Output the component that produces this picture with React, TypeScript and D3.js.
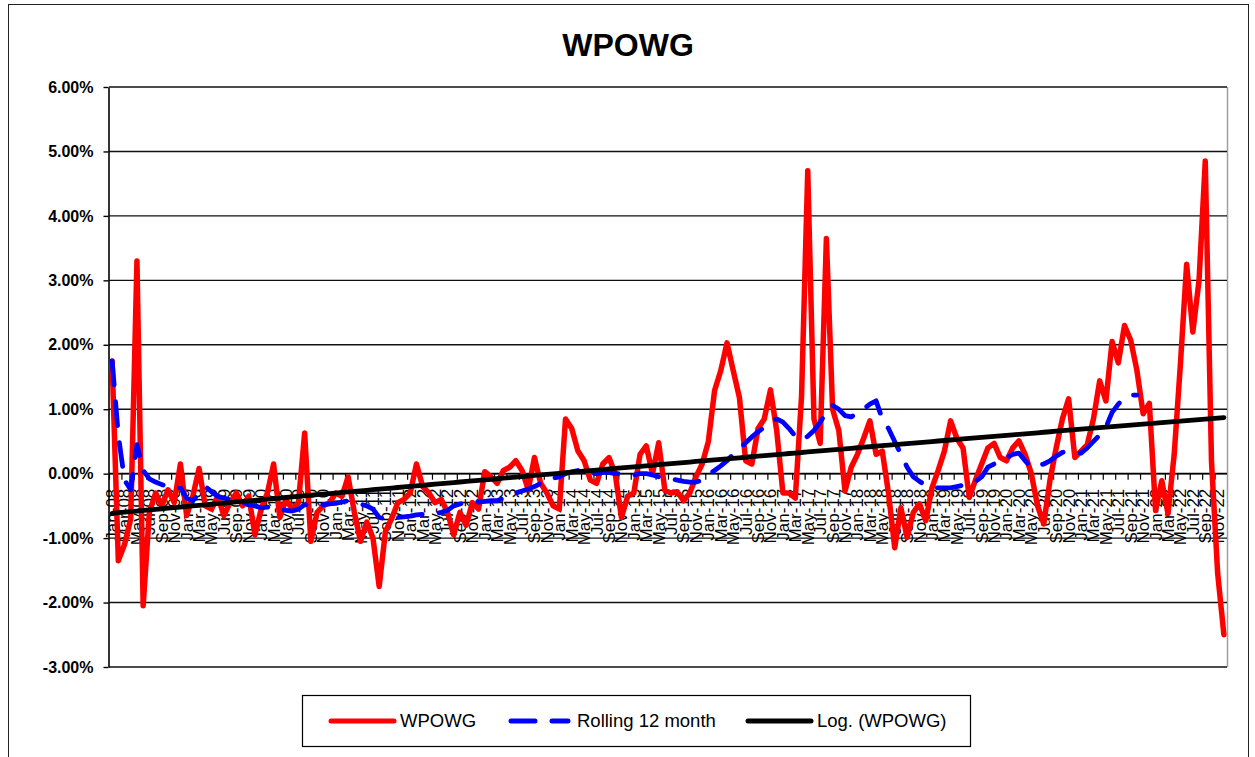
import React, { useEffect, useRef } from 'react';
import * as d3 from 'd3';

// months Jan-08 .. Dec-22
const MONTHS = d3.timeMonth.range(new Date(2008, 0, 1), new Date(2023, 0, 1));
const CATEGORIES = MONTHS.map(d3.timeFormat('%b-%y'));

// monthly WPOWG, in %
const WPOWG = [
  1.75, -1.35, -1.1, -0.7, 3.3, -2.05, -0.6, -0.3, -0.5, -0.25,
  -0.45, 0.15, -0.65, -0.35, 0.08, -0.5, -0.55, -0.35, -0.65, -0.45,
  -0.3, -0.5, -0.35, -0.95, -0.55, -0.3, 0.15, -0.68, -0.4, -0.55,
  -0.45, 0.63, -1.05, -0.6, -0.5, -0.45, -0.3, -0.35, -0.05, -0.6,
  -1.05, -0.75, -1.0, -1.75, -0.9, -0.7, -0.45, -0.4, -0.3, 0.15,
  -0.2, -0.3, -0.45, -0.4, -0.6, -0.95, -0.6, -0.8, -0.45, -0.55,
  0.03, -0.05, -0.15, 0.05, 0.1, 0.2, 0.05, -0.25, 0.25, -0.15,
  -0.3, -0.5, -0.55, 0.85, 0.7, 0.35, 0.2, -0.1, -0.15, 0.15,
  0.25, 0.0, -0.68, -0.35, -0.3, 0.3, 0.43, 0.0, 0.48, -0.26,
  -0.3, -0.28, -0.42, -0.3, -0.05, 0.15, 0.5, 1.29, 1.6, 2.03,
  1.6, 1.18, 0.2, 0.15, 0.7, 0.85, 1.3, 0.67, -0.3, -0.3,
  -0.38, 1.2, 4.7, 0.85, 0.47, 3.65, 1.0, 0.67, -0.27, 0.1,
  0.3, 0.55, 0.82, 0.3, 0.35, -0.3, -1.15, -0.53, -0.99, -0.6,
  -0.47, -0.73, -0.22, 0.05, 0.35, 0.82, 0.55, 0.4, -0.37, -0.1,
  0.15, 0.4, 0.47, 0.25, 0.2, 0.4, 0.51, 0.3, 0.0, -0.5,
  -0.78, -0.1, 0.4, 0.85, 1.16, 0.25, 0.35, 0.45, 0.85, 1.44,
  1.13, 2.05, 1.72, 2.3, 2.07, 1.6, 0.93, 1.09, -0.57, -0.11,
  -0.62, 0.3, 1.7, 3.25, 2.2, 3.0, 4.85, 0.2, -1.55, -2.5,
];

// rolling 12 month, ends Oct-21
const ROLLING = [
  1.75, 0.6, -0.1, -0.25, 0.45, 0.05, -0.08, -0.13, -0.17, -0.2,
  -0.23, -0.22, -0.38, -0.42, -0.3, -0.2, -0.28, -0.35, -0.38, -0.4,
  -0.42, -0.45, -0.48, -0.5, -0.53, -0.52, -0.5, -0.55, -0.57, -0.58,
  -0.55, -0.48, -0.5, -0.5, -0.48, -0.47, -0.46, -0.44, -0.42, -0.44,
  -0.47, -0.5, -0.55, -0.68, -0.7, -0.7, -0.68, -0.67, -0.66, -0.64,
  -0.63, -0.63, -0.62, -0.6, -0.57, -0.5, -0.47, -0.45, -0.43, -0.44,
  -0.43, -0.42, -0.42, -0.38, -0.34, -0.3, -0.27, -0.24, -0.2, -0.15,
  -0.1, -0.07, -0.05, 0.0, 0.03, 0.05, 0.02, 0.0, 0.0, 0.02,
  0.02, 0.0, 0.0, 0.0, -0.02, 0.0, 0.0, -0.02, -0.05, -0.07,
  -0.08, -0.1, -0.12, -0.13, -0.13, -0.1, -0.02, 0.05, 0.12, 0.2,
  0.3, 0.38, 0.48, 0.57, 0.65, 0.72, 0.8, 0.85, 0.8, 0.7,
  0.58, 0.52, 0.58, 0.67, 0.8, 0.95, 1.06, 1.0, 0.9, 0.88,
  0.95, 1.0, 1.08, 1.13, 0.85, 0.7, 0.5, 0.3, 0.1, -0.05,
  -0.12, -0.18, -0.22, -0.22, -0.22, -0.22, -0.2, -0.18, -0.15, -0.12,
  -0.05, 0.1, 0.15, 0.2, 0.25, 0.3, 0.32, 0.2, 0.1, 0.12,
  0.15, 0.2, 0.27, 0.33, 0.35, 0.33, 0.32, 0.4, 0.5, 0.6,
  0.72, 0.95, 1.08, 1.18, 1.22, 1.22,
];

const Y_TICKS = [-3, -2, -1, 0, 1, 2, 3, 4, 5, 6];
const SERIES_NAMES = ['WPOWG', 'Rolling 12 month', 'Log. (WPOWG)'];

const FONT = '"Liberation Sans", Arial, sans-serif';

const App = () => {
  const svgRef = useRef<SVGSVGElement | null>(null);

  useEffect(() => {
    const svg = d3.select(svgRef.current);
    svg.selectAll('*').remove();

    const left = 109, right = 1227, top = 87, bottom = 667;

    const x = d3.scaleBand().domain(CATEGORIES).range([left, right]);
    const y = d3.scaleLinear().domain([-3, 6]).range([bottom, top]);
    const cx = (i: number) => (x(CATEGORIES[i]) as number) + x.bandwidth() / 2;

    // chart border
    svg.append('rect')
      .attr('x', 8.5).attr('y', 4.5).attr('width', 1240).attr('height', 800)
      .attr('fill', '#fff').attr('stroke', '#222');

    // title
    svg.append('text')
      .attr('x', 628).attr('y', 56)
      .attr('text-anchor', 'middle')
      .style('font', `bold 32px ${FONT}`)
      .text('WPOWG');

    // plot area right border
    svg.append('line')
      .attr('x1', right + 0.5).attr('x2', right + 0.5)
      .attr('y1', top).attr('y2', bottom)
      .attr('stroke', '#a0a0a0').attr('stroke-width', 1.5);

    // gridlines
    svg.append('g').selectAll('line').data(Y_TICKS).enter().append('line')
      .attr('x1', left).attr('x2', right)
      .attr('y1', d => y(d)).attr('y2', d => y(d))
      .attr('stroke', '#111').attr('stroke-width', 1.4);

    // y axis
    const yAxis = svg.append('g')
      .attr('transform', `translate(${left - 0.5},0)`)
      .call(d3.axisLeft(y).tickValues(Y_TICKS).tickSize(5).tickSizeOuter(0).tickPadding(10)
        .tickFormat(d => (d as number).toFixed(2) + '%'));
    yAxis.select('.domain').attr('stroke', '#000').attr('stroke-width', 1.6);
    yAxis.selectAll('.tick line').attr('stroke', '#000').attr('stroke-width', 1.4);
    yAxis.selectAll('text').attr('fill', '#000').style('font', `bold 16px ${FONT}`);

    // x axis at 0%
    const y0 = y(0);
    svg.append('line')
      .attr('x1', left).attr('x2', right)
      .attr('y1', y0).attr('y2', y0)
      .attr('stroke', '#000').attr('stroke-width', 1.6);
    const tickIdx = CATEGORIES.map((_, i) => i).filter(i => i % 2 === 0);
    svg.append('g').selectAll('line').data(tickIdx).enter().append('line')
      .attr('x1', i => (x(CATEGORIES[i]) as number) + 0.5)
      .attr('x2', i => (x(CATEGORIES[i]) as number) + 0.5)
      .attr('y1', y0).attr('y2', y0 + 6)
      .attr('stroke', '#000').attr('stroke-width', 1.2);

    svg.append('g').selectAll('text').data(tickIdx).enter().append('text')
      .attr('transform', i => `translate(${cx(i)},${y0 + 15}) rotate(-90)`)
      .attr('text-anchor', 'end')
      .attr('dy', '0.35em')
      .style('font', `17px ${FONT}`)
      .attr('fill', '#000')
      .text(i => CATEGORIES[i]);

    // series
    const line = d3.line<number>().x((_, i) => cx(i)).y(d => y(d));

    svg.append('path')
      .attr('d', line(WPOWG))
      .attr('fill', 'none').attr('stroke', '#ff0000').attr('stroke-width', 5.5)
      .attr('stroke-linejoin', 'round').attr('stroke-linecap', 'round');

    svg.append('path')
      .attr('d', line(ROLLING))
      .attr('fill', 'none').attr('stroke', '#0000ff').attr('stroke-width', 4.8)
      .attr('stroke-dasharray', '24 17')
      .attr('stroke-linejoin', 'round').attr('stroke-linecap', 'round');

    // logarithmic trendline on date serials
    const lx = MONTHS.map(d => Math.log(d.getTime() / 864e5 + 25569));
    const mx = d3.mean(lx) as number;
    const my = d3.mean(WPOWG) as number;
    const slope = d3.sum(lx, (v, i) => (v - mx) * (WPOWG[i] - my)) / d3.sum(lx, v => (v - mx) ** 2);
    const trend = lx.map(v => my + slope * (v - mx));
    svg.append('path')
      .attr('d', line(trend))
      .attr('fill', 'none').attr('stroke', '#000').attr('stroke-width', 4.8)
      .attr('stroke-linecap', 'round');

    // legend
    const lg = svg.append('g');
    lg.append('rect')
      .attr('x', 302.5).attr('y', 695.5).attr('width', 668).attr('height', 51)
      .attr('fill', '#fff').attr('stroke', '#000').attr('stroke-width', 1.2);
    const items = [
      { x0: 331, x1: 394, tx: 400, color: '#ff0000', dash: null },
      { x0: 511, x1: 568, tx: 577, color: '#0000ff', dash: '24 17' },
      { x0: 748, x1: 811, tx: 817, color: '#000', dash: null },
    ];
    items.forEach((it, k) => {
      lg.append('line')
        .attr('x1', it.x0).attr('x2', it.x1).attr('y1', 721).attr('y2', 721)
        .attr('stroke', it.color).attr('stroke-width', 5)
        .attr('stroke-linecap', 'round')
        .attr('stroke-dasharray', it.dash);
      lg.append('text')
        .attr('x', it.tx).attr('y', 727)
        .style('font', `18.5px ${FONT}`)
        .attr('fill', '#000')
        .text(SERIES_NAMES[k]);
    });
  }, []);

  return (
    <div style={{ position: 'absolute', left: 0, top: 0 }}>
      <svg ref={svgRef} width={1255} height={757} style={{ display: 'block' }} />
    </div>
  );
};

export default App;
